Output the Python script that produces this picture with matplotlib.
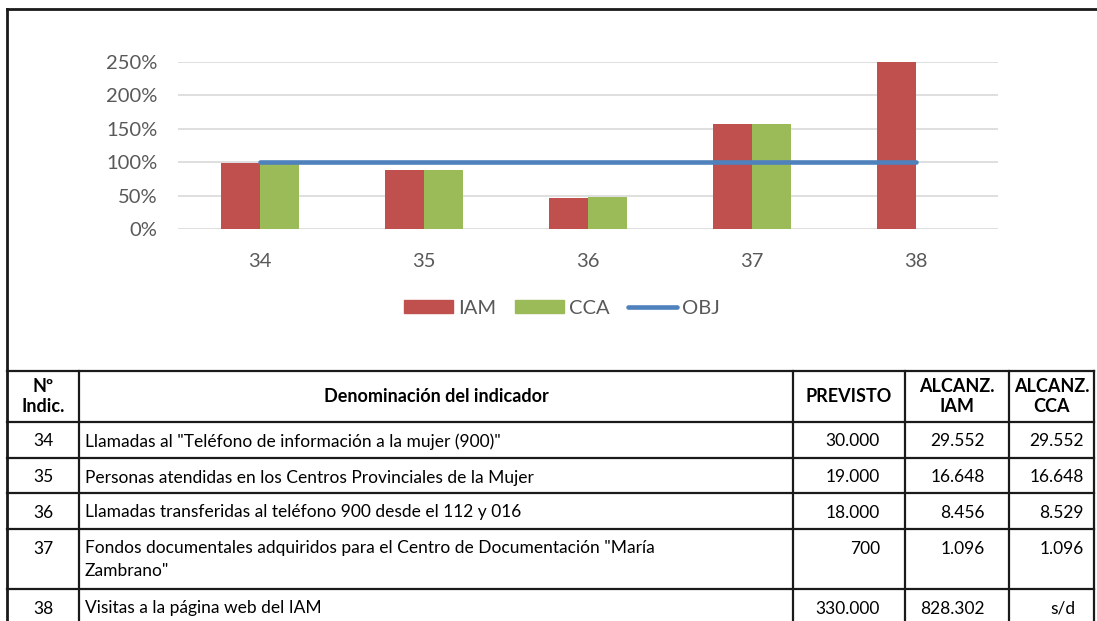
import numpy as np
import matplotlib.pyplot as plt
from matplotlib.patches import Patch
from matplotlib.lines import Line2D
from matplotlib.ticker import FuncFormatter

plt.rcParams['font.family'] = ['Lato', 'DejaVu Sans']

# chart data (% of target reached)
indicadores = ['34', '35', '36', '37', '38']
iam = [98.5, 87.6, 47.0, 156.6, 251.0]
cca = [98.5, 87.6, 47.4, 156.6, np.nan]
obj = [100, 100, 100, 100, 100]

# table data
cabecera = ['Nº\nIndic.', 'Denominación del indicador', 'PREVISTO', 'ALCANZ.\nIAM', 'ALCANZ.\nCCA']
denominacion = ['Llamadas al "Teléfono de información a la mujer (900)"',
                'Personas atendidas en los Centros Provinciales de la Mujer',
                'Llamadas transferidas al teléfono 900 desde el 112 y 016',
                'Fondos documentales adquiridos para el Centro de Documentación "María\nZambrano"',
                'Visitas a la página web del IAM']
previsto = ['30.000', '19.000', '18.000', '700', '330.000']
alcanz_iam = ['29.552', '16.648', '8.456', '1.096', '828.302']
alcanz_cca = ['29.552', '16.648', '8.529', '1.096', 's/d']

W, H = 1097, 621
fig = plt.figure(figsize=(W / 100, H / 100), dpi=100)

gris = '#595959'
ax = fig.add_axes([178 / W, 1 - 229 / H, (998 - 178) / W, (229 - 62) / H])
x = np.arange(len(indicadores))
bw = 0.235
ax.bar(x - bw / 2, iam, bw, color='#C0504D', zorder=2)
ax.bar(x + bw / 2, cca, bw, color='#9BBB59', zorder=2)
ax.plot(x, obj, color='#4F81BD', lw=3.3, solid_capstyle='round', zorder=3)
ax.set_xlim(-0.5, len(indicadores) - 0.5)
ax.set_ylim(0, 250)
ax.set_yticks([0, 50, 100, 150, 200, 250])
ax.yaxis.set_major_formatter(FuncFormatter(lambda v, p: '%d%%' % v))
ax.set_xticks(x)
ax.set_xticklabels(indicadores)
ax.grid(axis='y', color='#D9D9D9', lw=1.2, zorder=0)
ax.set_axisbelow(True)
for s in ax.spines.values():
    s.set_visible(False)
ax.tick_params(axis='y', length=0, pad=15, labelsize=14.5, labelcolor=gris)
ax.tick_params(axis='x', length=0, pad=17, labelsize=14.5, labelcolor=gris)

handles = [Patch(color='#C0504D', label='IAM'),
           Patch(color='#9BBB59', label='CCA'),
           Line2D([], [], color='#4F81BD', lw=3.3, solid_capstyle='round', label='OBJ')]
leg = fig.legend(handles=handles, loc='center', bbox_to_anchor=(562 / W, 1 - 308 / H),
                 ncol=3, frameon=False, fontsize=14.5, handlelength=2.45, handleheight=0.65,
                 handletextpad=0.25, columnspacing=0.9, borderaxespad=0)
for t in leg.get_texts():
    t.set_color(gris)

# frame and table drawn on an overlay axes in pixel coordinates
tb = fig.add_axes([0, 0, 1, 1])
tb.set_xlim(0, W)
tb.set_ylim(H, 0)
tb.axis('off')
lc = '#1A1A1A'
lw = 1.6
tb.plot([7, W], [9, 9], color=lc, lw=2)
tb.plot([7, 7], [9, H], color=lc, lw=2)

filas = [371, 422, 458, 493, 529, 589, 626]
cols = [7, 79, 793, 905, 1009, 1094]
for y in filas[:-1]:
    tb.plot([7, cols[-1]], [y, y], color=lc, lw=lw)
for c in cols[1:]:
    tb.plot([c, c], [filas[0], H], color=lc, lw=lw)

fs = 12.5
centros = [(cols[i] + cols[i + 1]) / 2 for i in range(len(cols) - 1)]
ymid = (filas[0] + filas[1]) / 2
for i, txt in enumerate(cabecera):
    tb.text(centros[i], ymid, txt, ha='center', va='center', fontsize=13,
            fontweight='bold', linespacing=1.2)

for r in range(len(denominacion)):
    y = filas[r + 1] + 19.5
    tb.text(centros[0], y, indicadores[r], ha='center', va='center', fontsize=fs)
    lineas = denominacion[r].split('\n')
    for k, ln in enumerate(lineas):
        tb.text(cols[1] + 6, y + 22 * k, ln, ha='left', va='center', fontsize=fs)
    tb.text(880, y, previsto[r], ha='right', va='center', fontsize=fs)
    tb.text(985, y, alcanz_iam[r], ha='right', va='center', fontsize=fs)
    if alcanz_cca[r] == 's/d':
        tb.text(1063, y, alcanz_cca[r], ha='center', va='center', fontsize=fs)
    else:
        tb.text(1084, y, alcanz_cca[r], ha='right', va='center', fontsize=fs)

fig.savefig('out.png', dpi=100)
